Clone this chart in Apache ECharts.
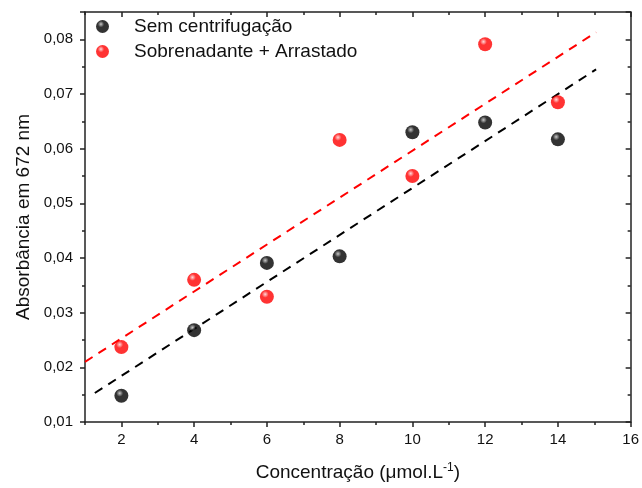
<!DOCTYPE html>
<html>
<head>
<meta charset="utf-8">
<script src="https://cdn.jsdelivr.net/npm/echarts@6/dist/echarts.min.js"></script>
<style>
  html, body { margin: 0; padding: 0; background: #fff; }
  #chart { width: 642px; height: 488px; }
</style>
</head>
<body>
<div id="chart"></div>
<script>
const concentrations = [2, 4, 6, 8, 10, 12, 14]
const semCentrifugacao = [0.0148, 0.0268, 0.0391, 0.0403, 0.0630, 0.0648, 0.0617]
const sobrenadante = [0.0237, 0.0360, 0.0329, 0.0616, 0.0550, 0.0791, 0.0685]
// linhas de ajuste (início e fim)
const fitSem = [[1.27, 0.0153], [15.05, 0.0745]]
const fitSob = [[1.0, 0.0210], [15.05, 0.0813]]
const xMajor = [2, 4, 6, 8, 10, 12, 14, 16]
const xMinor = [1, 3, 5, 7, 9, 11, 13, 15]

function sphere(base, light) {
  return {
    type: 'radial', x: 0.38, y: 0.32, r: 0.7,
    colorStops: [
      { offset: 0, color: light },
      { offset: 0.35, color: base },
      { offset: 1, color: base }
    ]
  }
}

const chart = echarts.init(document.getElementById('chart'))
const font = 'Liberation Sans, Arial, sans-serif'
const axisColor = '#222'
const tickLine = { color: axisColor, width: 1.5 }

// eixo x "fantasma" só para os ticks
function xTicks(pos, values, inside, len, showLine) {
  return {
    type: 'value', min: 1, max: 16, position: pos,
    axisLine: { show: showLine, lineStyle: tickLine },
    axisTick: { inside, length: len, customValues: values, lineStyle: tickLine },
    axisLabel: { show: false },
    splitLine: { show: false }
  }
}

chart.setOption({
  animation: false,
  textStyle: { fontFamily: font },
  grid: { left: 85, right: 10, top: 12, bottom: 66 },
  legend: {
    orient: 'vertical',
    left: 91,
    top: 12,
    itemGap: 6,
    itemWidth: 13,
    itemHeight: 13,
    textStyle: { fontSize: 19, color: '#111', fontFamily: font, padding: [0, 0, 0, 20] },
    data: [
      { name: 'Sem centrifugação', icon: 'circle' },
      { name: 'Sobrenadante + Arrastado', icon: 'circle' }
    ]
  },
  xAxis: [
    {
      type: 'value', min: 1, max: 16,
      name: 'Concentração (μmol.L{sup|-1})',
      nameLocation: 'middle', nameGap: 40,
      nameTextStyle: {
        fontSize: 19, color: '#111', fontFamily: font,
        rich: { sup: { fontSize: 12, verticalAlign: 'top', padding: [0, 0, 10, 0], color: '#111' } }
      },
      axisLine: { lineStyle: tickLine },
      axisTick: { inside: false, length: 5, customValues: xMajor, lineStyle: tickLine },
      axisLabel: { fontSize: 15, color: '#111', margin: 10, customValues: xMajor },
      splitLine: { show: false }
    },
    xTicks('bottom', xMinor, false, 3, false),
    xTicks('top', xMajor, true, 5, true),
    xTicks('top', xMinor, true, 3, false)
  ],
  yAxis: [
    {
      type: 'value', min: 0.01, max: 0.085, interval: 0.01,
      name: 'Absorbância em 672 nm',
      nameLocation: 'middle', nameGap: 48,
      nameTextStyle: { fontSize: 19, color: '#111', fontFamily: font },
      axisLine: { lineStyle: tickLine },
      axisTick: { inside: false, length: 5, lineStyle: tickLine },
      minorTick: { show: true, splitNumber: 2, length: 3, lineStyle: tickLine },
      axisLabel: {
        fontSize: 15, color: '#111', margin: 12,
        formatter: v => (v > 0.0849 ? '' : v.toFixed(2).replace('.', ','))
      },
      splitLine: { show: false }
    },
    {
      type: 'value', min: 0.01, max: 0.085, interval: 0.01, position: 'right',
      axisLine: { lineStyle: tickLine },
      axisTick: { inside: true, length: 5, lineStyle: tickLine },
      minorTick: { show: true, splitNumber: 2, length: 3, lineStyle: tickLine },
      axisLabel: { show: false },
      splitLine: { show: false }
    }
  ],
  series: [
    {
      name: 'fitSem', type: 'line', data: fitSem, symbol: 'none', silent: true,
      lineStyle: { color: '#000', width: 2, type: [9, 7] }, z: 2
    },
    {
      name: 'fitSob', type: 'line', data: fitSob, symbol: 'none', silent: true,
      lineStyle: { color: '#ff0000', width: 2, type: [9, 7] }, z: 2
    },
    {
      name: 'Sem centrifugação', type: 'scatter', symbolSize: 14, z: 3,
      data: concentrations.map((x, i) => [x, semCentrifugacao[i]]),
      itemStyle: { color: sphere('#000', '#bbbbbb') }
    },
    {
      name: 'Sobrenadante + Arrastado', type: 'scatter', symbolSize: 14, z: 3,
      data: concentrations.map((x, i) => [x, sobrenadante[i]]),
      itemStyle: { color: sphere('#ff0000', '#ffd0d0') }
    }
  ]
})
</script>
</body>
</html>
